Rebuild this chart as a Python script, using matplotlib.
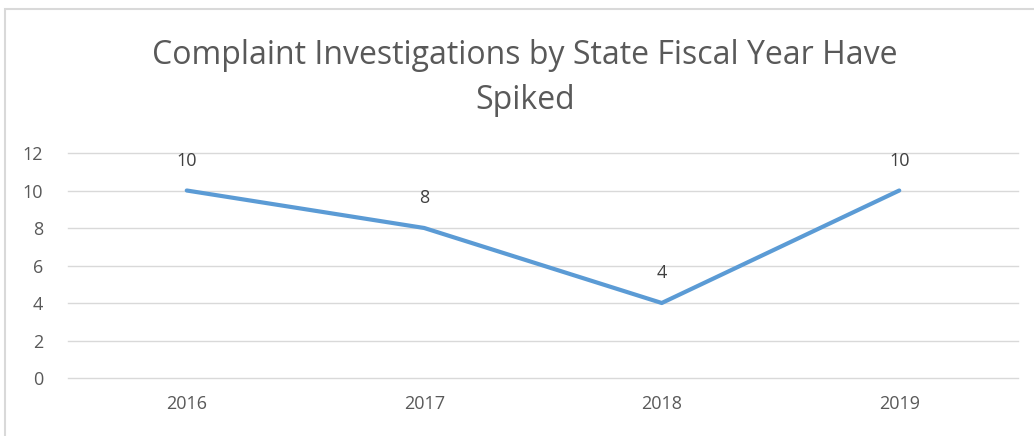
import matplotlib.pyplot as plt
from matplotlib.patches import Rectangle

years = ['2016', '2017', '2018', '2019']
counts = [10, 8, 4, 10]
yticks = [0, 2, 4, 6, 8, 10, 12]
title = 'Complaint Investigations by State Fiscal Year Have\nSpiked'

plt.rcParams['font.family'] = ['Open Sans', 'DejaVu Sans']

fig = plt.figure(figsize=(10.34, 4.36), dpi=100)
ax = fig.add_axes([68/1034, 1-378/436, 950/1034, 225/436])

# chart border
fig.patches.append(Rectangle((5/1034, -0.01), 1.0, 1-9/436 + 0.01, transform=fig.transFigure,
                             fill=False, edgecolor='#d9d9d9', linewidth=1.5))

x = range(len(years))
ax.plot(x, counts, color='#5b9bd5', linewidth=3, solid_capstyle='round', zorder=3)
for i, v in zip(x, counts):
    ax.annotate(str(v), (i, v), xytext=(0, 15), textcoords='offset points',
                ha='center', va='bottom', fontsize=13, color='#404040')

ax.set_xlim(-0.5, len(years) - 0.5)
ax.set_ylim(0, 12)
ax.set_yticks(yticks)
ax.set_xticks(list(x))
ax.set_xticklabels(years)
ax.grid(axis='y', color='#d9d9d9', linewidth=1)
for gl in ax.get_ygridlines():
    gl.set_clip_on(False)
ax.set_axisbelow(True)
for s in ax.spines.values():
    s.set_visible(False)
ax.tick_params(length=0, labelsize=13, labelcolor='#595959')
ax.tick_params(axis='y', pad=18)
ax.tick_params(axis='x', pad=12)

fig.text(525/1034, 1-78/436, title, ha='center', va='center', fontsize=23,
         color='#595959', linespacing=1.5)

fig.savefig('out.png', dpi=100)
